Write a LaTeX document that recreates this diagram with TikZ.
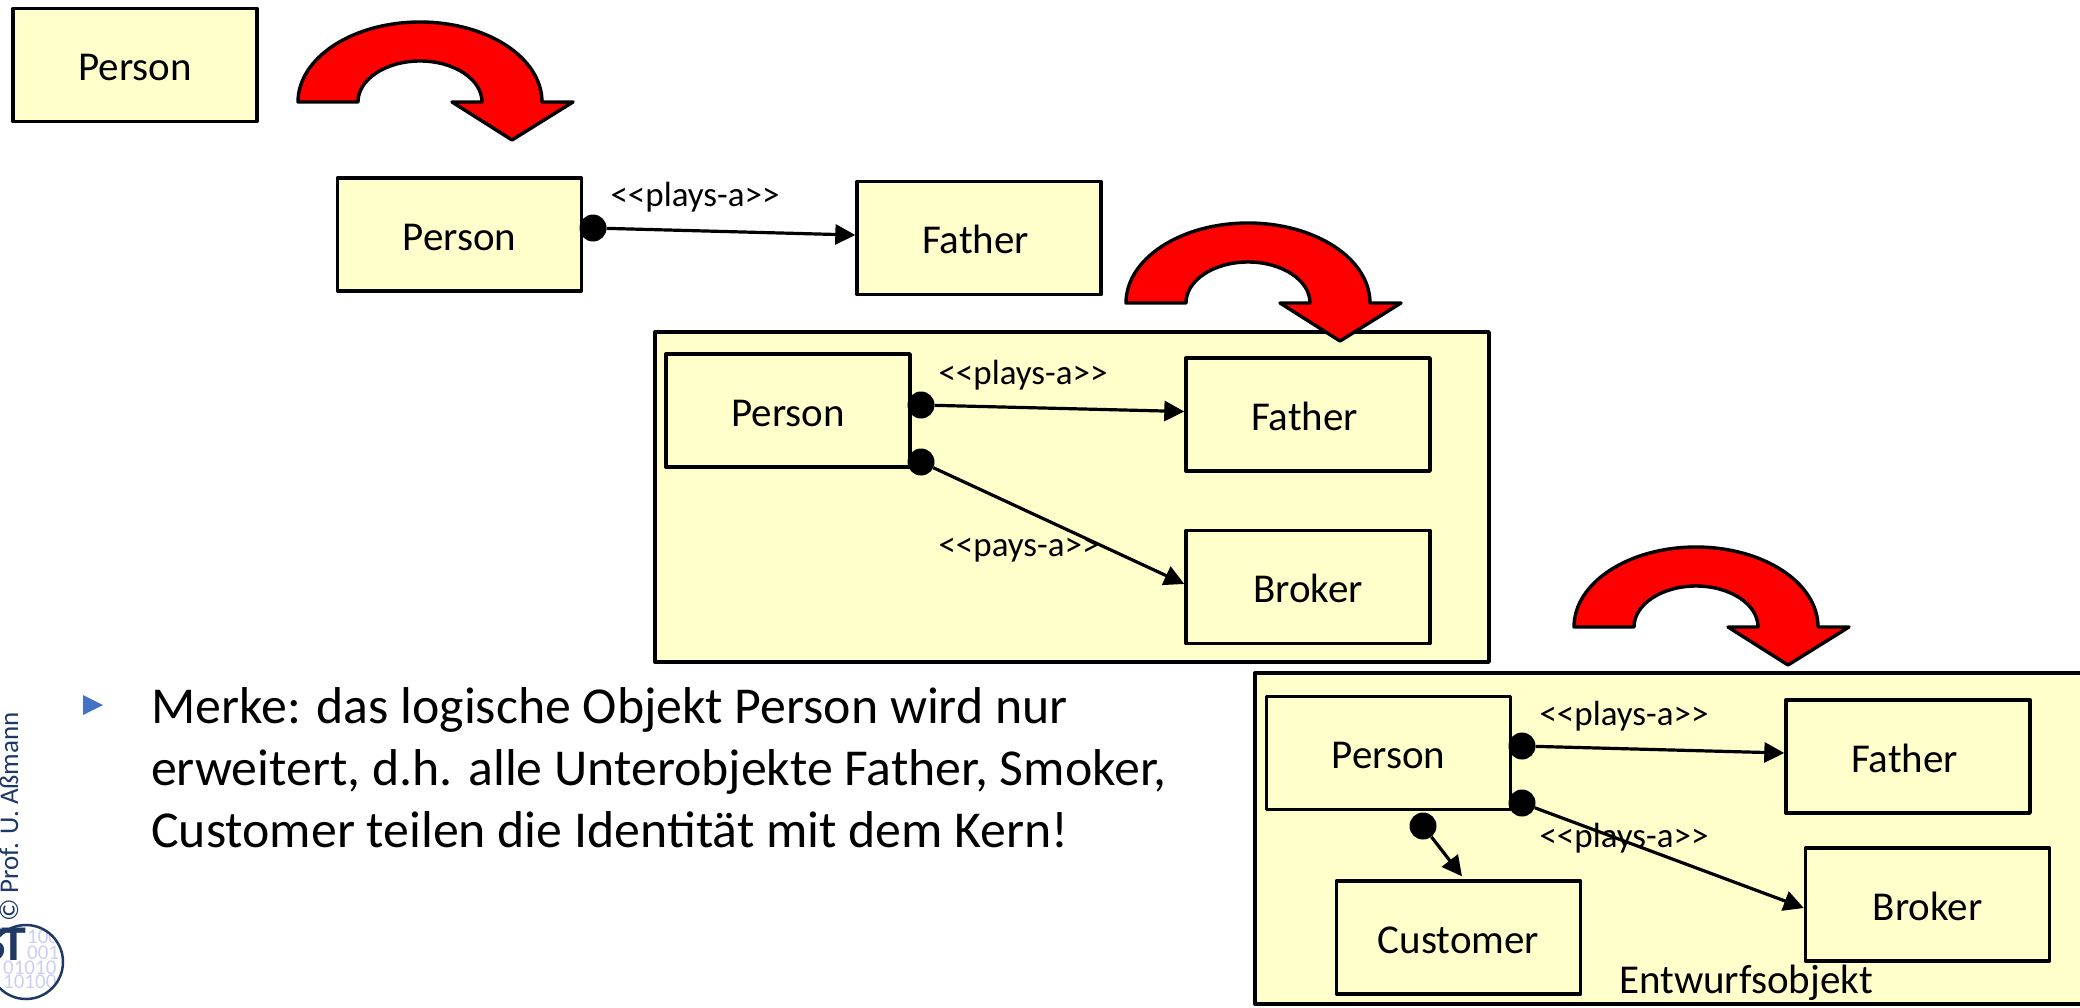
\documentclass[tikz,border=0pt]{standalone}
\usepackage{fontspec}
\setmainfont{Carlito}
\usetikzlibrary{arrows.meta}
\definecolor{boxyellow}{HTML}{FFFFCC}
\definecolor{navy}{HTML}{1F3864}
\definecolor{bulletblue}{HTML}{4472C4}
\definecolor{digitblue}{HTML}{CDCEF2}
\tikzset{
  boxbase/.style={draw=black,fill=boxyellow,line width=3.4pt,inner sep=0pt,line join=round},
  umlbox/.style={boxbase,minimum width=244pt,minimum height=113pt,text height=31pt,text depth=0pt,font=\fontsize{41}{48}\selectfont},
  lbl/.style={inner sep=0pt,text height=27pt,text depth=5pt,font=\fontsize{35}{40}\selectfont},
  dot/.style={circle,fill=black,minimum size=27pt,inner sep=0pt},
  link/.style={line width=3.2pt,-{Triangle[length=20pt,width=20pt]}},
  turnshape/.style={draw=black,fill=red,line width=3.4pt,line join=round},
}
\newcommand{\turnarrow}[2]{%
  \path[turnshape,shift={(#1pt,-#2pt)}] (298,-102) arc[start angle=180,end angle=0,x radius=122pt,y radius=80pt]
    -- (573,-102) -- (512,-140) -- (452,-102) -- (482,-102)
    arc[start angle=0,end angle=180,x radius=62pt,y radius=41pt] -- cycle;}
\begin{document}
\begin{tikzpicture}[x=1pt,y=1pt]
\useasboundingbox (0,0) rectangle (2080,-1007);
\node[boxbase,minimum width=834pt,minimum height=330pt] (big2) at (1072,-497) {};
\node[boxbase,minimum width=840pt,minimum height=331pt] (big3) at (1675,-838.5) {};
\turnarrow{0}{0}
\turnarrow{828}{201}
\turnarrow{1276}{525}
% first stage
\node[umlbox] (p1) at (135,-65) {Person};
% second stage
\node[umlbox] (p2) at (459.5,-234.5) {Person};
\node[umlbox] (f1) at (979,-238) {Father\kern7pt};
\node[dot] (d1) at (593,-228) {};
\draw[link] (d1) -- ([yshift=3pt]f1.west);
\node[lbl] (l1) at (695,-195) {<{}<plays-a>{}>};
% third stage
\node[umlbox] (p3) at (788,-410.5) {Person};
\node[umlbox] (f2) at (1308,-414.5) {Father\kern7pt};
\node[umlbox] (b2) at (1308,-587) {Broker};
\node[dot] (d2) at (921,-405) {};
\node[dot] (d3) at (921,-462) {};
\draw[link] (d2) -- ([yshift=3pt]f2.west);
\draw[link] (d3) -- ([yshift=3pt]b2.west);
\node[lbl] (l2) at (1023,-373) {<{}<plays-a>{}>};
\node[lbl] (l3) at (1019,-545) {<{}<pays-a>{}>};
% fourth stage
\node[umlbox] (p4) at (1388.5,-753) {Person};
\node[umlbox] (f3) at (1908,-756.5) {Father\kern7pt};
\node[umlbox] (b3) at (1927.5,-904.5) {Broker};
\node[umlbox] (c) at (1458.5,-937.5) {Customer};
\node[dot] (d4) at (1522,-746) {};
\node[dot] (d5) at (1522,-803) {};
\node[dot] (d6) at (1423,-826) {};
\draw[link] (d4) -- ([yshift=3.5pt]f3.west);
\draw[link] (d5) -- ([yshift=-3.5pt]b3.west);
\draw[link] (d6) -- ([xshift=3.5pt,yshift=3pt]c.north);
\node[lbl] (l4) at (1624,-714) {<{}<plays-a>{}>};
\node[lbl] (l5) at (1624,-836) {<{}<plays-a>{}>};
\node[inner sep=0pt,text height=28pt,text depth=0pt,font=\fontsize{41}{48}\selectfont] (ent) at (1746,-979) {Entwurfsobjekt};
% bullet text
\fill[bulletblue] (83,-695) -- (103,-705) -- (83,-715) -- cycle;
\node[anchor=north west,inner sep=0pt,align=left,font=\fontsize{51.8}{62}\selectfont] (txt) at (151,-687)
 {Merke: das logische Objekt Person wird nur\\erweitert, d.h. alle Unterobjekte Father, Smoker,\\Customer teilen die Identität mit dem Kern!};
% footer
\node[rotate=90,inner sep=0pt,text=navy,font=\fontsize{27}{30}\selectfont] (copy) at (9,-817) {© Prof. U. Aßmann};
\begin{scope}
  \clip (26,-962) circle (37pt);
  \node[anchor=base west,inner sep=0pt,text=digitblue,font=\fontsize{21}{21}\selectfont] (r1) at (27,-943) {10010};
  \node[anchor=base west,inner sep=0pt,text=digitblue,font=\fontsize{21}{21}\selectfont] (r2) at (27,-959) {001};
  \node[anchor=base west,inner sep=0pt,text=digitblue,font=\fontsize{21}{21}\selectfont] (r3) at (3,-974) {01010};
  \node[anchor=base west,inner sep=0pt,text=digitblue,font=\fontsize{21}{21}\selectfont] (r4) at (3,-988) {10100};
\end{scope}
\draw[navy,line width=2.5pt] (26,-962) circle (37pt);
\node[anchor=base east,inner sep=0pt,text=navy,font=\fontsize{50}{50}\selectfont\bfseries] (st) at (26,-960) {S\kern-5pt T};
\end{tikzpicture}
\end{document}
